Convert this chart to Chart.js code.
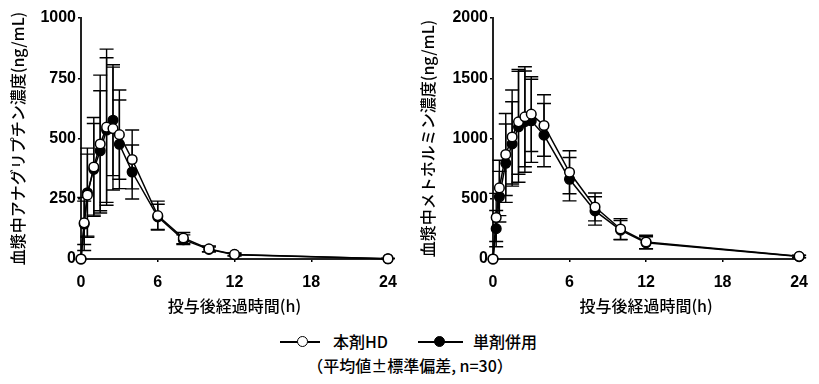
<!DOCTYPE html>
<html><head><meta charset="utf-8">
<script src="https://cdn.jsdelivr.net/npm/chart.js@4"></script>
<style>
body{margin:0;background:#fff;width:819px;height:384px;position:relative;overflow:hidden;font-family:"Noto Sans CJK JP","Noto Sans",sans-serif;color:#000;}
canvas{position:absolute;top:0;}
#c1{left:0;}
#c2{left:410px;}
.t{position:absolute;font-size:16px;line-height:20px;white-space:nowrap;font-weight:500;}
.ln{position:absolute;height:1.5px;background:#000;}
.pt{position:absolute;width:9px;height:9px;border:1.5px solid #000;border-radius:50%;background:#fff;}
</style></head><body>
<canvas id="c1" width="410" height="320"></canvas>
<canvas id="c2" width="409" height="320"></canvas>

<div class="ln" style="left:280px;top:341px;width:40px"></div>
<div class="pt" style="left:297px;top:336px"></div>
<div class="t" style="left:333px;top:331px">本剤HD</div>
<div class="ln" style="left:418px;top:341px;width:45px"></div>
<div class="pt" style="left:434px;top:336px;background:#000"></div>
<div class="t" style="left:473px;top:331px">単剤併用</div>
<div class="t" style="left:305px;top:355px;width:210px;text-align:center;font-size:16px">（平均値±標準偏差, n=30）</div>

<script>
const times = [0,0.25,0.5,1,1.5,2,2.5,3,4,6,8,10,12,24];
const xTicks = [0,6,12,18,24];

// Anagliptin (ng/mL)
const anaHD     = [0,150,265,382,477,547,541,516,413,180,87,42,19,1];
const anaHDsd   = [0,90,170,205,286,324,255,185,122,60,23,12,6,1];
const anaCo     = [0,145,275,372,449,535,576,476,361,175,80,40,18,1];
const anaCoSd   = [0,110,185,190,249,300,230,184,112,52,20,10,5,1];

// Metformin (ng/mL)
const metHD     = [0,345,590,867,1013,1138,1180,1202,1108,720,432,249,141,22];
const metHDsd   = [0,200,230,340,390,435,415,310,255,178,116,86,56,10];
const metCo     = [0,252,517,795,955,1097,1140,1147,1028,662,399,240,135,20];
const metCoSd   = [0,150,210,325,350,460,420,345,263,180,118,80,50,10];

const seriesNames = ['本剤HD','単剤併用'];
const xTitle = '投与後経過時間(h)';

const FONT_CJK = '"Noto Sans CJK JP", "Noto Sans", sans-serif';
const FONT_NUM = '"Liberation Sans", Arial, sans-serif';

const errorBars = {
  id: 'errorBars',
  beforeDatasetsDraw(chart, args, opts) {
    const {ctx, scales:{x, y}} = chart;
    ctx.save();
    ctx.strokeStyle = '#000';
    ctx.lineWidth = 1.4;
    const cap = 7;
    chart.data.datasets.forEach((ds, di) => {
      const sds = opts.sds[di];
      ds.data.forEach((p, i) => {
        const s = sds[i];
        if (!s) return;
        const px = x.getPixelForValue(p.x);
        const top = y.getPixelForValue(p.y + s);
        const lowV = p.y - s;
        const bot = y.getPixelForValue(Math.max(0, lowV));
        ctx.beginPath();
        ctx.moveTo(px, top); ctx.lineTo(px, bot);
        ctx.moveTo(px - cap, top); ctx.lineTo(px + cap, top);
        if (lowV > 0) { ctx.moveTo(px - cap, bot); ctx.lineTo(px + cap, bot); }
        ctx.stroke();
      });
    });
    ctx.restore();
  }
};

function pts(vals) { return times.map((t, i) => ({x: t, y: vals[i]})); }

function makeChart(id, yTitle, yMax, yStep, hd, hdSd, co, coSd, yWidth, padRight) {
  new Chart(document.getElementById(id), {
    type: 'scatter',
    data: {
      datasets: [
        {label: seriesNames[0], data: pts(hd), showLine: true, borderColor: '#000', borderWidth: 1.5,
         pointBackgroundColor: '#fff', pointBorderColor: '#000', pointBorderWidth: 1.5, pointRadius: 4.8, clip: false},
        {label: seriesNames[1], data: pts(co), showLine: true, borderColor: '#000', borderWidth: 1.5,
         pointBackgroundColor: '#000', pointBorderColor: '#000', pointBorderWidth: 1.5, pointRadius: 4.8, clip: false}
      ]
    },
    options: {
      responsive: false,
      animation: false,
      events: [],
      layout: {padding: {top: 18, right: padRight, left: 0, bottom: 0}},
      plugins: {legend: {display: false}, tooltip: {enabled: false}, errorBars: {sds: [hdSd, coSd]}},
      scales: {
        x: {
          type: 'linear', min: 0, max: 24,
          afterBuildTicks: s => { s.ticks = xTicks.map(v => ({value: v})); },
          ticks: {color: '#000', font: {family: FONT_NUM, size: 16, weight: 'bold'}, padding: 11, maxRotation: 0,
                  callback: v => String(v)},
          grid: {drawOnChartArea: false, drawTicks: true, tickLength: 3, color: '#000', lineWidth: 1.5},
          border: {display: true, color: '#222', width: 2},
          title: {display: true, text: xTitle, color: '#000', font: {family: FONT_CJK, size: 16, weight: 500}, padding: {top: 4, bottom: 4}},
          afterFit: s => { s.height = 61; }
        },
        y: {
          type: 'linear', min: 0, max: yMax,
          ticks: {stepSize: yStep, color: '#000', font: {family: FONT_NUM, size: 16, weight: 'bold'}, padding: 2,
                  callback: v => String(v)},
          grid: {drawOnChartArea: false, drawTicks: true, tickLength: 3, color: '#000', lineWidth: 1.5},
          border: {display: true, color: '#222', width: 2},
          title: {display: true, text: yTitle, color: '#000', font: {family: FONT_CJK, size: 16, weight: 500}, padding: {top: 8, bottom: 0}},
          afterFit: s => { s.width = yWidth; }
        }
      }
    },
    plugins: [errorBars]
  });
}

makeChart('c1', '血漿中アナグリプチン濃度(ng/mL)', 1000, 250, anaHD, anaHDsd, anaCo, anaCoSd, 81, 22);
makeChart('c2', '血漿中メトホルミン濃度(ng/mL)', 2000, 500, metHD, metHDsd, metCo, metCoSd, 83, 18);
</script>
</body></html>
